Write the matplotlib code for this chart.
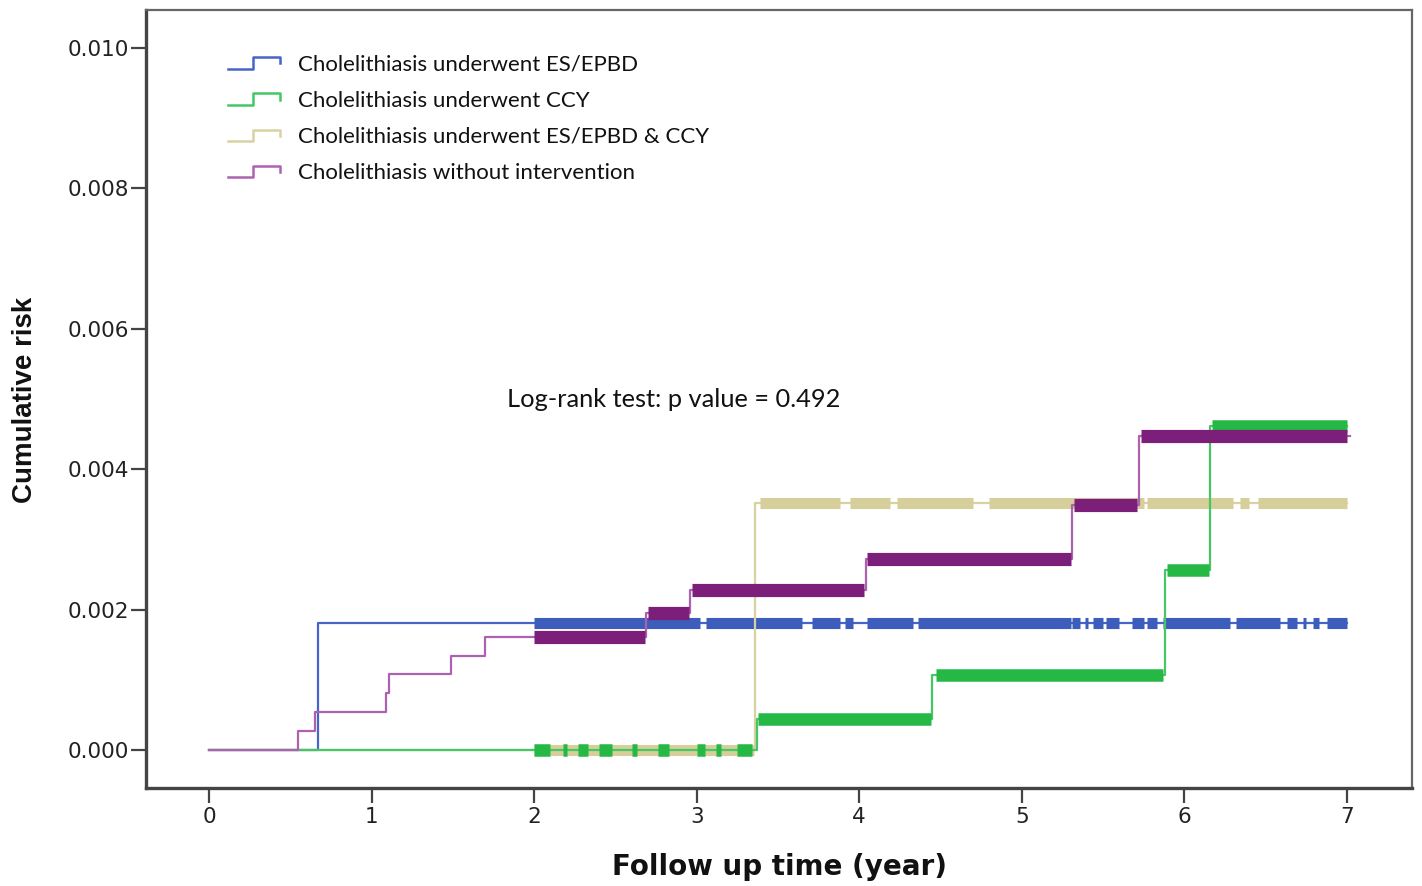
import numpy as np
import matplotlib
matplotlib.use("Agg")
import matplotlib.pyplot as plt
from matplotlib.lines import Line2D
from matplotlib.legend_handler import HandlerBase
from matplotlib import font_manager

# ---------------- data ----------------
labels = ["Cholelithiasis underwent ES/EPBD",
          "Cholelithiasis underwent CCY",
          "Cholelithiasis underwent ES/EPBD & CCY",
          "Cholelithiasis without intervention"]

blue_t = [0, 0.67, 7.0]
blue_y = [0, 0.00181, 0.00181]
green_t = [0, 3.37, 4.45, 5.88, 6.16, 7.0]
green_y = [0, 0.00044, 0.00107, 0.00256, 0.00462, 0.00462]
beige_t = [0, 3.36, 7.0]
beige_y = [0, 0.00352, 0.00352]
purple_t = [0, 0.55, 0.65, 1.09, 1.11, 1.49, 1.70, 2.69, 2.96, 4.04, 5.31, 5.72, 7.02]
purple_y = [0, 0.000275, 0.00054, 0.00081, 0.00108, 0.00134, 0.00161, 0.00195,
            0.00228, 0.00272, 0.00349, 0.00447, 0.00447]

# censored stretches (start, end) in years
blue_cens = [(2.0, 3.02), (3.06, 3.65), (3.71, 3.88), (3.91, 3.96), (4.05, 4.33),
             (4.36, 5.30), (5.31, 5.36), (5.39, 5.41), (5.44, 5.50), (5.52, 5.60),
             (5.68, 5.75), (5.77, 5.83), (5.87, 6.28), (6.32, 6.59), (6.63, 6.69),
             (6.73, 6.75), (6.79, 6.83), (6.88, 7.0)]
beige_cens = [(2.0, 3.35), (3.39, 3.88), (3.94, 4.19), (4.23, 4.70), (4.80, 5.75),
              (5.77, 6.30), (6.34, 6.40), (6.45, 7.0)]
green_cens = [(2.0, 2.1), (2.18, 2.2), (2.27, 2.33), (2.4, 2.48), (2.6, 2.63),
              (2.76, 2.83), (3.0, 3.05), (3.12, 3.15), (3.25, 3.34),
              (3.38, 4.44), (4.47, 5.87), (5.89, 6.15), (6.17, 7.0)]
purple_cens = [(2.0, 2.68), (2.70, 2.95), (2.97, 4.03), (4.05, 5.30), (5.32, 5.71),
               (5.73, 7.0)]

xticks = [0, 1, 2, 3, 4, 5, 6, 7]
yticks = [0.000, 0.002, 0.004, 0.006, 0.008, 0.010]
ytick_labels = ["0.000", "0.002", "0.004", "0.006", "0.008", "0.010"]
annot = "Log-rank test: p value = 0.492"

# ---------------- style ----------------
thin_cols = ["#4565c8", "#45c765", "#d8d2a2", "#ad62b0"]
thick_cols = ["#3c5dbb", "#25b845", "#d6ce9b", "#7b1f7b"]
bar_lw = [8.0, 9.0, 8.0, 9.5]

installed = {f.name for f in font_manager.fontManager.ttflist}
ylab_font = "Liberation Sans" if "Liberation Sans" in installed else "DejaVu Sans"
leg_font = "Lato" if "Lato" in installed else "DejaVu Sans"

fig = plt.figure(figsize=(14.22, 8.86), dpi=100)
ax = fig.add_axes([146 / 1422, 1 - 788 / 886, (1412 - 146) / 1422, (788 - 10) / 886])

def level_at(ts, ys, t):
    i = np.searchsorted(ts, t, side="right") - 1
    return ys[i]

series = [(blue_t, blue_y, blue_cens), (green_t, green_y, green_cens),
          (beige_t, beige_y, beige_cens), (purple_t, purple_y, purple_cens)]
order = [0, 2, 1, 3]
handles = {}
for k in order:
    ts, ys, cens = series[k]
    z = 2 + order.index(k)
    h, = ax.step(ts, ys, where="post", color=thin_cols[k], lw=1.6, zorder=z)
    handles[k] = h
    for (a, b) in cens:
        lv = level_at(np.array(ts), np.array(ys), (a + b) / 2)
        ax.plot([a, b], [lv, lv], color=thick_cols[k], lw=bar_lw[k],
                solid_capstyle="butt", zorder=z + 0.5)

ax.set_xlim(-0.3875, 7.40)
ax.set_ylim(-0.000541, 0.010541)
ax.set_xticks(xticks)
ax.set_xticklabels([str(v) for v in xticks], fontsize=15.5, family="DejaVu Sans", color="#222222")
ax.set_yticks(yticks)
ax.set_yticklabels(ytick_labels, fontsize=15.5, family="DejaVu Sans", color="#222222")
ax.tick_params(axis="both", direction="out", length=11, width=1.6, color="#444444")
ax.tick_params(axis="y", pad=1)
ax.tick_params(axis="x", pad=3)
for s in ["left", "bottom"]:
    ax.spines[s].set_linewidth(2.4)
    ax.spines[s].set_color("#444444")
for s in ["top", "right"]:
    ax.spines[s].set_linewidth(1.6)
    ax.spines[s].set_color("#666666")

ax.set_xlabel("Follow up time (year)", fontsize=20, fontweight="bold", family="DejaVu Sans",
              labelpad=18.5, color="#111111")
ax.set_ylabel("Cumulative risk", fontsize=20, fontweight="bold", family=ylab_font,
              color="#111111")
ax.yaxis.set_label_coords(-0.0853, 0.4987)

ax.text(1.833, 0.004986, annot, fontsize=18.3, family=leg_font, va="center", ha="left",
        color="#111111")


class StepHandler(HandlerBase):
    def create_artists(self, legend, orig_handle, xdescent, ydescent, width, height,
                       fontsize, trans):
        xs = np.array([0, 0.48, 0.48, 1.0, 1.0]) * width - xdescent
        ys = np.array([0.1, 0.1, 0.85, 0.85, 0.45]) * height - ydescent
        ln = Line2D(xs, ys, color=orig_handle.get_color(), lw=1.8)
        ln.set_transform(trans)
        return [ln]


leg = ax.legend([handles[i] for i in range(4)], labels,
                handler_map={Line2D: StepHandler()},
                loc="upper left", bbox_to_anchor=(0.065, 0.943), frameon=False,
                prop={"family": leg_font, "size": 16}, handlelength=2.34,
                handleheight=0.7, handletextpad=0.81, labelspacing=0.73,
                borderpad=0, borderaxespad=0)
for t in leg.get_texts():
    t.set_color("#111111")

fig.savefig("out.png", dpi=100, facecolor="white")
